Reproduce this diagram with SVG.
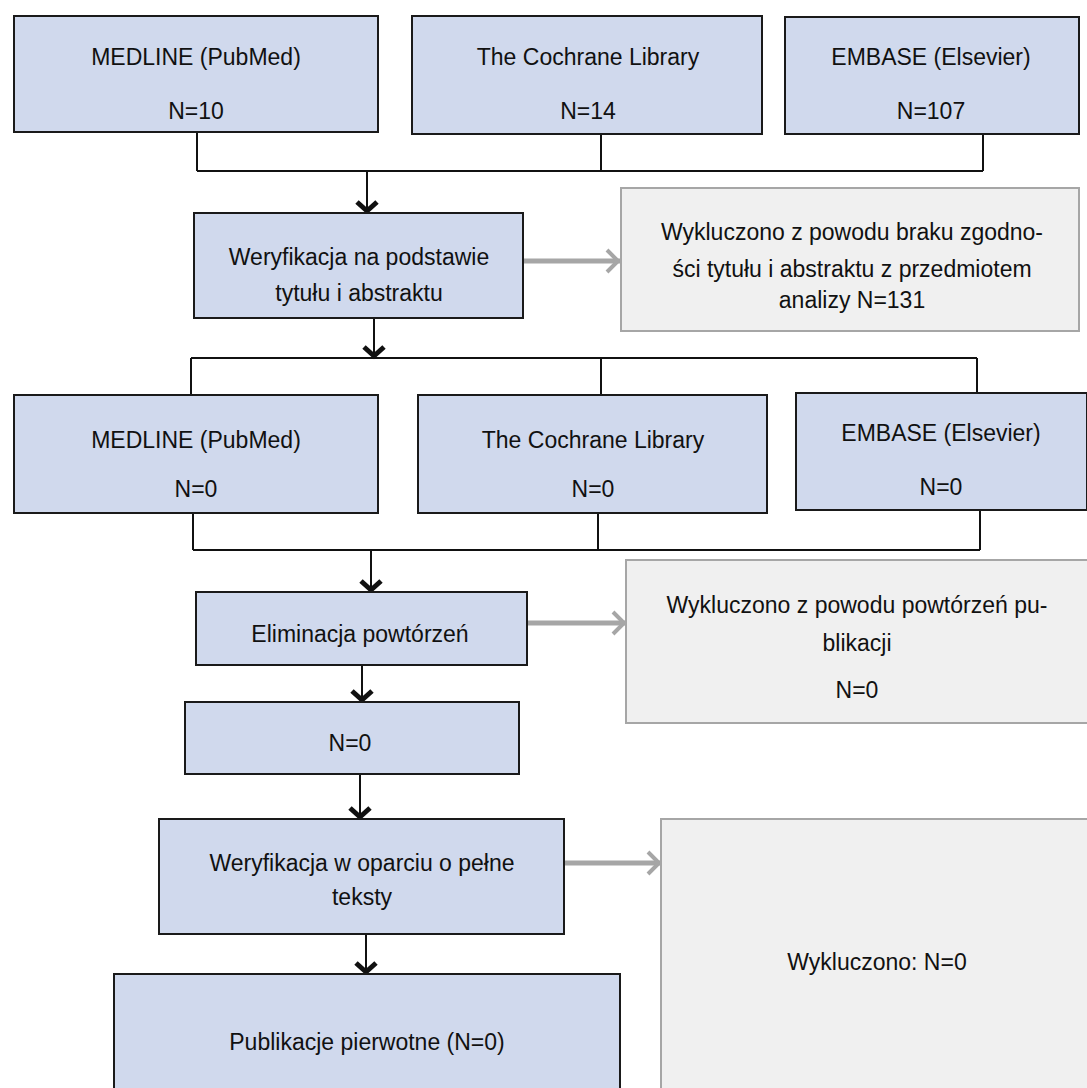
<svg xmlns="http://www.w3.org/2000/svg" width="1087" height="1088" viewBox="0 0 1087 1088">
<style>
.box{fill:#d0d9ed;stroke:#1a1a1a;stroke-width:2}
.gbox{fill:#f0f0f0;stroke:#a6a6a6;stroke-width:2}
text{font-family:"Liberation Sans",Arial,sans-serif;font-size:23px;fill:#111;text-anchor:middle}
.ln{fill:none;stroke:#111;stroke-width:2}
.ar{fill:none;stroke:#111;stroke-width:2;marker-end:url(#ah)}
.gar{fill:none;stroke:#a6a6a6;stroke-width:5;marker-end:url(#gh)}
</style>
<defs>
<marker id="ah" markerUnits="userSpaceOnUse" viewBox="0 0 24 24" markerWidth="24" markerHeight="24" refX="22" refY="12" orient="auto">
<path d="M11,2 L20,12 L11,22" fill="none" stroke="#111" stroke-width="5"/>
</marker>
<marker id="gh" markerUnits="userSpaceOnUse" viewBox="0 0 24 28" markerWidth="24" markerHeight="28" refX="21" refY="14" orient="auto">
<path d="M8,3 L19,14 L8,25" fill="none" stroke="#a6a6a6" stroke-width="4"/>
</marker>
</defs>
<rect width="1087" height="1088" fill="#fff"/>
<g id="connectors">
<path class="ln" d="M197,132 V171 M601,134 V171 M983,134 V171 M197,171 H983"/>
<path class="ar" d="M367,171 V213"/>
<path class="ar" d="M374,318 V358"/>
<path class="ln" d="M191,358 H977 M191,358 V395 M601,358 V395 M977,358 V393"/>
<path class="ln" d="M193,513 V550 M598,513 V550 M980,510 V550 M193,550 H980"/>
<path class="ar" d="M371,550 V592"/>
<path class="ar" d="M362,665 V702"/>
<path class="ar" d="M360,774 V819"/>
<path class="ar" d="M366,934 V974"/>
<path class="gar" d="M523,261 H620"/>
<path class="gar" d="M527,623 H626"/>
<path class="gar" d="M564,863 H661"/>
</g>
<g id="medline1"><rect class="box" x="14" y="16" width="364" height="116"/><text x="196" y="65">MEDLINE (PubMed)</text><text x="196" y="119">N=10</text></g>
<g id="cochrane1"><rect class="box" x="412" y="16" width="350" height="118"/><text x="588" y="65">The Cochrane Library</text><text x="588" y="119">N=14</text></g>
<g id="embase1"><rect class="box" x="785" y="17" width="294" height="117"/><text x="931" y="65">EMBASE (Elsevier)</text><text x="931" y="119">N=107</text></g>
<g id="weryfikacja1"><rect class="box" x="194" y="213" width="329" height="105"/><text x="359" y="265">Weryfikacja na podstawie</text><text x="359" y="301">tytułu i abstraktu</text></g>
<g id="wykluczono1"><rect class="gbox" x="621" y="188" width="458" height="143"/><text x="852" y="240">Wykluczono z powodu braku zgodno-</text><text x="852" y="277">ści tytułu i abstraktu z przedmiotem</text><text x="852" y="308">analizy N=131</text></g>
<g id="medline2"><rect class="box" x="14" y="395" width="364" height="118"/><text x="196" y="448">MEDLINE (PubMed)</text><text x="196" y="497">N=0</text></g>
<g id="cochrane2"><rect class="box" x="418" y="395" width="349" height="118"/><text x="593" y="448">The Cochrane Library</text><text x="593" y="497">N=0</text></g>
<g id="embase2"><rect class="box" x="796" y="393" width="291" height="117"/><text x="941" y="441">EMBASE (Elsevier)</text><text x="941" y="495">N=0</text></g>
<g id="eliminacja"><rect class="box" x="196" y="592" width="331" height="73"/><text x="360" y="642">Eliminacja powtórzeń</text></g>
<g id="wykluczono2"><rect class="gbox" x="626" y="560" width="462" height="163"/><text x="857" y="613">Wykluczono z powodu powtórzeń pu-</text><text x="857" y="651">blikacji</text><text x="857" y="698">N=0</text></g>
<g id="n0"><rect class="box" x="185" y="702" width="334" height="72"/><text x="350" y="751">N=0</text></g>
<g id="weryfikacja2"><rect class="box" x="159" y="819" width="405" height="115"/><text x="362" y="871">Weryfikacja w oparciu o pełne</text><text x="362" y="905">teksty</text></g>
<g id="wykluczono3"><rect class="gbox" x="661" y="819" width="430" height="280"/><text x="877" y="970">Wykluczono: N=0</text></g>
<g id="publikacje"><rect class="box" x="114" y="974" width="506" height="130"/><text x="367" y="1050">Publikacje pierwotne (N=0)</text></g>
</svg>
